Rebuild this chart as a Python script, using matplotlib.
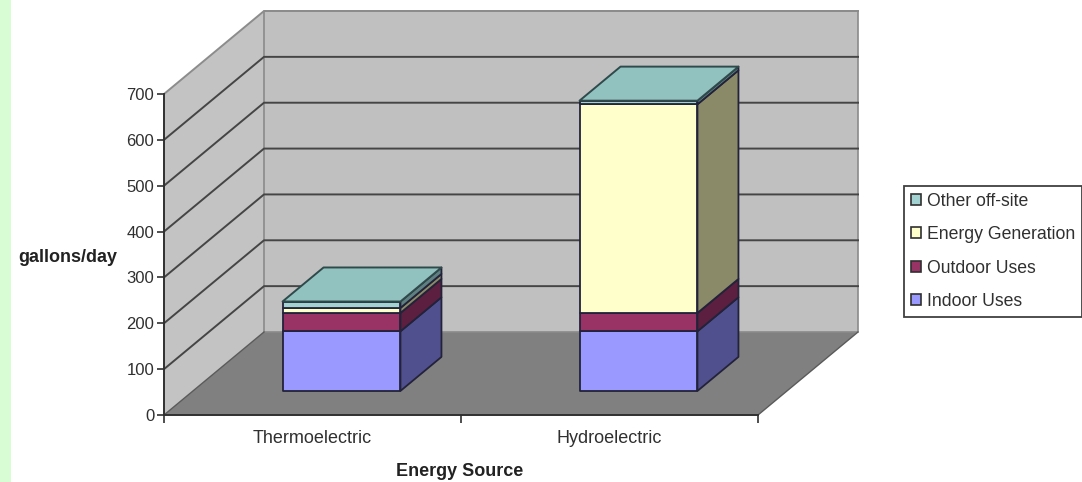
import matplotlib
matplotlib.use("Agg")
import matplotlib.pyplot as plt
from matplotlib.patches import Polygon, Rectangle

plt.rcParams['font.family'] = ['Liberation Sans', 'DejaVu Sans']

categories = ['Thermoelectric', 'Hydroelectric']
series_names = ['Indoor Uses', 'Outdoor Uses', 'Energy Generation', 'Other off-site']
indoor = [130, 130]
outdoor = [40, 40]
energy = [11, 455]
other = [14, 8]
y_ticks = [0, 100, 200, 300, 400, 500, 600, 700]

front_colors = ['#9999ff', '#993366', '#ffffcc', '#a3d2d2']
side_colors = ['#50508f', '#5c1f40', '#8a8a68', '#5f8080']
top_color = '#92c2c0'
edge = '#22223a'

W, H = 1082, 482
fig = plt.figure(figsize=(W / 100, H / 100), dpi=100, facecolor='white')
fig.patches.append(Rectangle((0, 0), 11 / W, 1, transform=fig.transFigure,
                             facecolor='#d8fcd4', edgecolor='none'))

ax = fig.add_axes([164 / W, 1 - 415 / H, (758 - 164) / W, (415 - 94) / H])
ax.set_xlim(0, 2)
ax.set_ylim(0, 700)
ax.patch.set_visible(False)

# Oblique offset of the full chart depth, in data units
DX = 100 / 297
DY = 83 / (321 / 700)


def proj(x, y, d):
    return (x + d * DX, y + d * DY)


def face(points, fc, ec='none', lw=0.0, z=1):
    ax.add_patch(Polygon([proj(*p) for p in points], closed=True, facecolor=fc,
                         edgecolor=ec, linewidth=lw, clip_on=False, zorder=z,
                         joinstyle='round'))


# Floor and walls
face([(0, 0, 0), (2, 0, 0), (2, 0, 1), (0, 0, 1)], '#808080', z=1)
face([(0, 0, 0), (0, 0, 1), (0, 700, 1), (0, 700, 0)], '#c3c3c3', z=1)
face([(0, 0, 1), (2, 0, 1), (2, 700, 1), (0, 700, 1)], '#c0c0c0', ec='#8a8a8a', lw=1.2, z=1)

# Gridlines run across the side wall and the back wall; the top one is fainter
for v in y_ticks[1:]:
    pts = [proj(0, v, 0), proj(0, v, 1), proj(2, v, 1)]
    ax.plot([p[0] for p in pts], [p[1] for p in pts],
            color='#8c8c8c' if v == y_ticks[-1] else '#454545',
            lw=1.4, clip_on=False, zorder=2)

# Floor edges: side wall foot and the right-hand diagonal
for a, b in ((proj(0, 0, 0), proj(0, 0, 1)), (proj(2, 0, 0), proj(2, 0, 1))):
    ax.plot([a[0], b[0]], [a[1], b[1]], color='#5a5a5a', lw=1.0,
            clip_on=False, zorder=2)

# Stacked blocks
BAR_W = 0.397
D0, D1 = 0.29, 0.70
stacks = [indoor, outdoor, energy, other]
for i, _ in enumerate(categories):
    x0 = i + 0.5 - BAR_W / 2
    x1 = x0 + BAR_W
    base = 0
    for s, values in enumerate(stacks):
        top = base + values[i]
        face([(x1, base, D0), (x1, base, D1), (x1, top, D1), (x1, top, D0)],
             side_colors[s], ec=edge, lw=1.3, z=3)
        face([(x0, base, D0), (x1, base, D0), (x1, top, D0), (x0, top, D0)],
             front_colors[s], ec=edge, lw=1.3, z=4)
        base = top
    face([(x0, base, D0), (x1, base, D0), (x1, base, D1), (x0, base, D1)],
         top_color, ec='#2f4a4a', lw=1.4, z=5)

# Axes
for name in ('top', 'right'):
    ax.spines[name].set_visible(False)
for name in ('left', 'bottom'):
    ax.spines[name].set_color('#303030')
    ax.spines[name].set_linewidth(1.4)
    ax.spines[name].set_zorder(6)
ax.set_yticks(y_ticks)
ax.set_xticks([0, 1, 2])
ax.set_xticklabels([])
ax.set_xticks([0.5, 1.5], minor=True)
ax.set_xticklabels(categories, minor=True)
ax.tick_params(axis='x', which='minor', length=0, pad=11, labelsize=13, labelcolor='#303030')
ax.tick_params(axis='x', which='major', length=6, width=1.2, color='#303030')
ax.tick_params(axis='y', length=5, width=1.2, color='#303030', pad=2,
               labelsize=12, labelcolor='#303030')

fig.text(68 / W, 1 - 257 / H, 'gallons/day', ha='center', va='center',
         fontsize=13, fontweight='bold', color='#222222')
fig.text(460 / W, 1 - 471 / H, 'Energy Source', ha='center', va='center',
         fontsize=13, fontweight='bold', color='#222222')

# Legend lists the series from top of stack to bottom
handles = [Rectangle((0, 0), 1, 1, facecolor=front_colors[s], edgecolor='#303030', linewidth=1.2)
           for s in (3, 2, 1, 0)]
leg = fig.legend(handles, [series_names[s] for s in (3, 2, 1, 0)],
                 loc='upper left', bbox_to_anchor=(904 / W, 1 - 186 / H),
                 bbox_transform=fig.transFigure, fontsize=12.7, frameon=True,
                 fancybox=False, edgecolor='#404040', framealpha=1,
                 handlelength=0.6, handleheight=0.6, handletextpad=0.35,
                 labelspacing=0.93, borderpad=0.38, borderaxespad=0, labelcolor='#303030')
leg.get_frame().set_linewidth(1.3)

fig.savefig('out.png', dpi=100, facecolor='white')
